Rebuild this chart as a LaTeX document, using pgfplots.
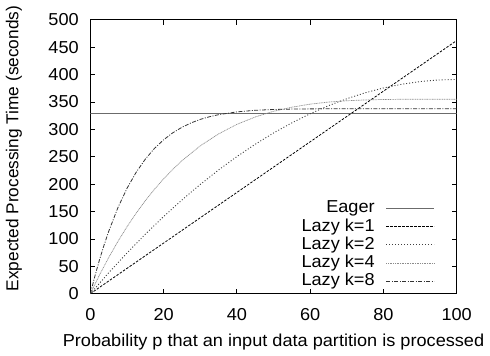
\documentclass[border=0pt]{standalone}
\usepackage{fontspec}
\setmainfont{Liberation Sans}[FakeStretch=1.05]
\newfontfamily\ylabfont{Liberation Sans}
\usepackage{pgfplots}
\pgfplotsset{compat=1.18}
\begin{document}
\fontsize{17.4bp}{20bp}\selectfont
\begin{tikzpicture}
\begin{axis}[
  scale only axis, width=369bp, height=276bp,
  xmin=0, xmax=100, ymin=0, ymax=500,
  xtick={0,20,...,100}, ytick={0,50,...,500},
  tick align=inside, major tick length=5bp,
  axis line style={line width=0.9bp},
  every tick/.style={black, line width=0.8bp},
  /pgf/number format/assume math mode=true,
  tick label style={font=\fontsize{17.4bp}{20bp}\selectfont},
  xticklabel style={anchor=base, inner sep=0pt, yshift=-26.6bp},
  yticklabel style={anchor=east, inner sep=0pt, xshift=-11.5bp},
  xlabel={Probability p that an input data partition is processed},
  ylabel={Expected Processing Time (seconds)},
  every axis x label/.style={at={(axis description cs:0.5,-0.192)}, anchor=base,
    font=\fontsize{17.4bp}{20bp}\selectfont},
  every axis y label/.style={at={(axis description cs:-0.2087,0.53)}, anchor=center, rotate=90,
    font=\ylabfont\fontsize{17.4bp}{20bp}\selectfont},
  legend plot pos=right,
  legend cell align=right,
  legend image code/.code={\draw[#1] (0bp,0bp) -- (48bp,0bp);},
  legend style={draw=none, fill=none, inner sep=0pt, outer sep=0pt,
    at={(axis description cs:1,0)}, anchor=south east, xshift=-22bp, yshift=4.5bp,
    row sep=2.1bp, column sep=11bp,
    nodes={inner sep=0pt, text height=12.5bp, text depth=3.7bp, font=\fontsize{17.4bp}{20bp}\selectfont}},
]
\addplot[color=black!58, line width=1.6bp] coordinates {(0,329) (100,329)};
\addlegendentry{Eager}
\addplot[black, line width=0.8bp, dash pattern=on 2.5bp off 1.5bp] coordinates {(0,0) (100,462)};
\addlegendentry{Lazy k=1}
\addplot[black!75, line width=0.9bp, dash pattern=on 1bp off 2bp] coordinates {
(0,0) (5,38.1) (10,74.3) (15,108.5) (20,140.8) (25,171.1) (30,199.4) (35,225.8)
(40,250.2) (45,272.7) (50,293.3) (55,311.8) (60,328.4) (65,343.1) (70,355.8)
(75,366.6) (80,375.4) (85,382.2) (90,387.1) (95,390.0) (100,391)};
\addlegendentry{Lazy k=2}
\addplot[black!45, line width=0.7bp, dash pattern=on 1bp off 0.7bp] coordinates {
(0,0) (2.5,34.2) (5,65.9) (7.5,95.1) (10,122.1) (12.5,146.9) (15,169.7) (17.5,190.5)
(20,209.6) (22.5,226.9) (25,242.7) (30,269.8) (35,291.6) (40,309.0) (45,322.5)
(50,332.8) (55,340.4) (60,345.9) (65,349.7) (70,352.1) (75,353.6) (80,354.4)
(85,354.8) (90,355.0) (100,355)};
\addlegendentry{Lazy k=4}
\addplot[black!80, line width=0.8bp, dash pattern=on 4bp off 1.5bp on 1bp off 1.5bp] coordinates {
(0,0) (1.25,32.3) (2.5,61.9) (3.75,88.9) (5,113.6) (7.5,156.6) (10,192.2) (12.5,221.5)
(15,245.5) (17.5,265.1) (20,280.9) (22.5,293.6) (25,303.7) (27.5,311.7) (30,318.1)
(32.5,322.9) (35,326.7) (40,331.8) (45,334.7) (50,336.2) (55,336.9) (60,337.3)
(70,337.5) (100,337.5)};
\addlegendentry{Lazy k=8}
\end{axis}
\path (-91bp,-59bp) rectangle (399bp,292bp);
\end{tikzpicture}
\end{document}
